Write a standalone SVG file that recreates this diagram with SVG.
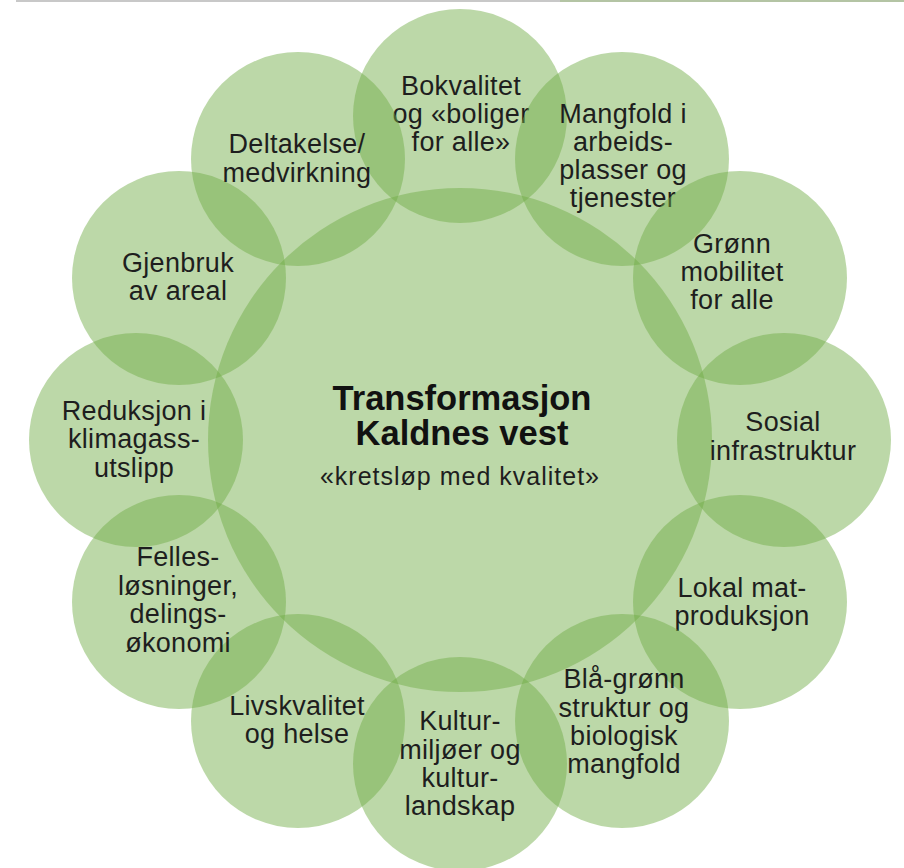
<svg xmlns="http://www.w3.org/2000/svg" width="904" height="868" viewBox="0 0 904 868">
<style>
.c{fill:#70AD47;fill-opacity:0.47}
.t{font-family:"Liberation Sans",Arial,sans-serif;font-size:27px;letter-spacing:0.3px;fill:#1e1e1e;text-anchor:middle}
.h{font-family:"Liberation Sans",Arial,sans-serif;font-size:34.5px;font-weight:bold;fill:#111;text-anchor:middle}
.s{font-family:"Liberation Sans",Arial,sans-serif;font-size:25px;letter-spacing:1px;fill:#1e1e1e;text-anchor:middle}
</style>
<rect width="904" height="868" fill="#fff"/>
<rect x="16" y="0" width="544" height="2" fill="#c8c8c8"/>
<rect x="560" y="0" width="344" height="2" fill="#b4c4a4"/>
<g id="connectors"/>
<g id="center">
<circle class="c" cx="460" cy="440" r="252"/>
<text class="h" x="462" y="410">Transformasjon</text>
<text class="h" x="462" y="445">Kaldnes vest</text>
<text class="s" x="460" y="485">«kretsløp med kvalitet»</text>
</g>
<g id="bokvalitet">
<circle class="c" cx="460" cy="116" r="107"/>
<text class="t"><tspan x="461" y="95">Bokvalitet</tspan><tspan x="461" y="123">og «boliger</tspan><tspan x="461" y="151">for alle»</tspan></text>
</g>
<g id="mangfold">
<circle class="c" cx="622" cy="159" r="107"/>
<text class="t"><tspan x="623" y="123">Mangfold i</tspan><tspan x="623" y="151">arbeids-</tspan><tspan x="623" y="179">plasser og</tspan><tspan x="623" y="207">tjenester</tspan></text>
</g>
<g id="gronn-mobilitet">
<circle class="c" cx="740" cy="278" r="107"/>
<text class="t"><tspan x="732" y="253">Grønn</tspan><tspan x="732" y="281">mobilitet</tspan><tspan x="732" y="309">for alle</tspan></text>
</g>
<g id="sosial">
<circle class="c" cx="784" cy="440" r="107"/>
<text class="t"><tspan x="783" y="431">Sosial</tspan><tspan x="783" y="460">infrastruktur</tspan></text>
</g>
<g id="lokal-mat">
<circle class="c" cx="740" cy="602" r="107"/>
<text class="t"><tspan x="742" y="597">Lokal mat-</tspan><tspan x="742" y="625">produksjon</tspan></text>
</g>
<g id="bla-gronn">
<circle class="c" cx="622" cy="721" r="107"/>
<text class="t"><tspan x="624" y="688">Blå-grønn</tspan><tspan x="624" y="717">struktur og</tspan><tspan x="624" y="745">biologisk</tspan><tspan x="624" y="773">mangfold</tspan></text>
</g>
<g id="kultur">
<circle class="c" cx="460" cy="764" r="107"/>
<text class="t"><tspan x="460" y="730">Kultur-</tspan><tspan x="460" y="759">miljøer og</tspan><tspan x="460" y="787">kultur-</tspan><tspan x="460" y="815">landskap</tspan></text>
</g>
<g id="livskvalitet">
<circle class="c" cx="298" cy="721" r="107"/>
<text class="t"><tspan x="297" y="715">Livskvalitet</tspan><tspan x="297" y="743">og helse</tspan></text>
</g>
<g id="felles">
<circle class="c" cx="179" cy="602" r="107"/>
<text class="t"><tspan x="178" y="566">Felles-</tspan><tspan x="178" y="595">løsninger,</tspan><tspan x="178" y="623">delings-</tspan><tspan x="178" y="652">økonomi</tspan></text>
</g>
<g id="reduksjon">
<circle class="c" cx="136" cy="440" r="107"/>
<text class="t"><tspan x="134" y="420">Reduksjon i</tspan><tspan x="134" y="448">klimagass-</tspan><tspan x="134" y="477">utslipp</tspan></text>
</g>
<g id="gjenbruk">
<circle class="c" cx="179" cy="278" r="107"/>
<text class="t"><tspan x="178" y="272">Gjenbruk</tspan><tspan x="178" y="300">av areal</tspan></text>
</g>
<g id="deltakelse">
<circle class="c" cx="298" cy="159" r="107"/>
<text class="t"><tspan x="297" y="153">Deltakelse/</tspan><tspan x="297" y="182">medvirkning</tspan></text>
</g>
</svg>
